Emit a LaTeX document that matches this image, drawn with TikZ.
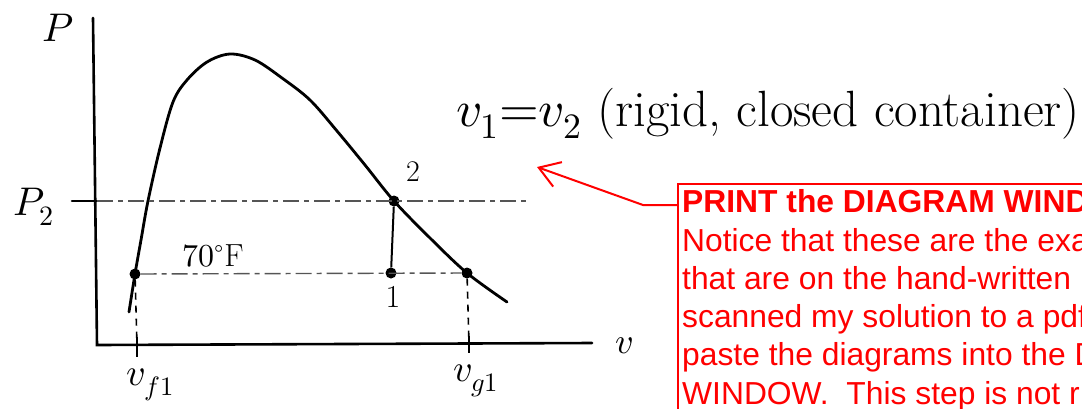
\documentclass[tikz,border=0pt]{standalone}
\usepackage{fontspec}
\usepackage{unicode-math}
\newfontfamily\notefont{Liberation Sans}
\usetikzlibrary{arrows.meta, positioning, calc}
\definecolor{NoteRed}{RGB}{255,0,0}
\definecolor{GuideGray}{RGB}{85,85,85}

\begin{document}
\begin{tikzpicture}[x=1pt, y=-1pt,
	axisline/.style={line width=2.6pt, line cap=round},
	domeline/.style={line width=2.8pt, line cap=round},
	guide/.style={line width=1.4pt, GuideGray, dash pattern=on 16pt off 5pt on 5pt off 5pt},
	dropline/.style={line width=1.6pt, dash pattern=on 7pt off 6pt},
	statept/.style={circle, fill=black, inner sep=0pt, minimum size=11pt},
	hand/.style={font=\fontsize{38}{42}\selectfont, inner sep=0pt},
	notebox/.style={draw=NoteRed, line width=2pt, inner sep=0pt, anchor=north west,
		minimum width=440pt, minimum height=250pt},
	callout/.style={NoteRed, line width=2pt,
		-{Straight Barb[length=20pt, width=26pt, line width=2pt]}}]
	\useasboundingbox (0,0) rectangle (1082,408);
	\clip (0,0) rectangle (1082,408);
	\coordinate (ptop) at (93,18);
	\coordinate (origin) at (97,345);
	\coordinate (vend) at (592,343);
	\draw[axisline] (ptop) -- (origin) -- (vend);
	\node[hand, font=\fontsize{40}{44}\selectfont] (plbl) at (58,28) {$P$};
	\node[hand, font=\fontsize{36}{40}\selectfont] (vlbl) at (624,346) {$v$};
	\node[hand, font=\fontsize{40}{44}\selectfont] (p2lbl) at (34,207) {$P_2$};
	\node[statept] (f) at (135,274) {};
	\node[statept] (s2) at (394,201) {};
	\node[statept] (s1) at (391,273) {};
	\node[statept] (g) at (467,273) {};
	\draw[domeline] plot[smooth, tension=0.55] coordinates {(129,312) (135,274) (141,240)
		(148,201) (160,148) (173,102) (187,80) (207,62) (230,54) (255,60) (282,78)
		(310,100) (337,131) (365,165) (394,201) (430,238) (467,273) (507,302)};
	\coordinate (p2tick) at (72,201);
	\coordinate (p2end) at (527,201);
	\draw[axisline] (p2tick) -- (origin |- s2);
	\draw[guide] (origin |- s2) -- (p2end);
	\draw[guide] (f) -- (g);
	\draw[line width=2pt] (s2) -- (s1);
	\coordinate (vf) at (137,345);
	\coordinate (vg) at (469,344);
	\draw[dropline] (f) -- (vf);
	\draw[dropline] (g) -- (vg);
	\draw[line width=2.4pt] ($(vf)+(0,-8)$) -- ($(vf)+(0,12)$);
	\draw[line width=2.4pt] ($(vg)+(0,-8)$) -- ($(vg)+(0,9)$);
	\node[hand] (vflbl) at (150,385) {$v_{f1}$};
	\node[hand] (vglbl) at (476,381) {$v_{g1}$};
	\node[hand, font=\fontsize{32}{36}\selectfont] (templbl) at (213,256) {$70^\circ$F};
	\node[hand, font=\fontsize{30}{34}\selectfont] (lbl2) at (413,172) {2};
	\node[hand, font=\fontsize{32}{36}\selectfont] (lbl1) at (393,297) {1};
	\node[hand, font=\fontsize{51}{55}\selectfont, anchor=base west] (rigid) at (456,126)
		{$v_1{=}v_2$ (rigid, closed container)};
	\node[notebox] (note) at (677,183) {};
	\node[anchor=north west, inner sep=0pt, text=NoteRed, align=left,
		font=\notefont\fontsize{31.8}{38.3}\selectfont] (notetext) at (682,189.5)
		{\textbf{PRINT the DIAGRAM WIND}\\
		Notice that these are the exa\\
		that are on the hand-written\\
		scanned my solution to a pdf\\
		paste the diagrams into the D\\
		WINDOW.~ This step is not r};
	\coordinate (knee) at (643,205);
	\coordinate (tip) at (537,167);
	\draw[callout] ($(note.north west)+(0,22)$) -- (knee) -- (tip);
\end{tikzpicture}
\end{document}
